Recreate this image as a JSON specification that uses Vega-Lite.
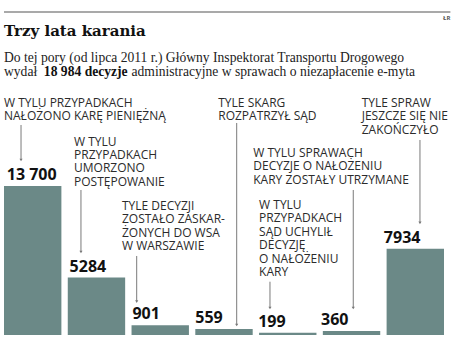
{
  "$schema": "https://vega.github.io/schema/vega-lite/v6.json",
  "width": 440,
  "height": 240,
  "autosize": "none",
  "padding": {"left": 4, "top": 95, "right": 14, "bottom": 7},
  "background": "white",
  "config": {"view": {"stroke": null}},
  "datasets": {
    "bars": [
      {"kat": "Kara pieniężna", "wartosc": 13700, "etykieta": "13 700"},
      {"kat": "Umorzone", "wartosc": 5284, "etykieta": "5284"},
      {"kat": "Zaskarżone do WSA", "wartosc": 901, "etykieta": "901"},
      {"kat": "Skargi rozpatrzone", "wartosc": 559, "etykieta": "559"},
      {"kat": "Sąd uchylił", "wartosc": 199, "etykieta": "199"},
      {"kat": "Utrzymane", "wartosc": 360, "etykieta": "360"},
      {"kat": "Niezakończone", "wartosc": 7934, "etykieta": "7934"}
    ],
    "opisy": [
      {"tekst": "W TYLU PRZYPADKACH\nNAŁOŻONO KARĘ PIENIĘŻNĄ", "ax": 0, "ay": 20970},
      {"tekst": "W TYLU\nPRZYPADKACH\nUMORZONO\nPOSTĘPOWANIE", "ax": 1.098, "ay": 17426},
      {"tekst": "TYLE DECYZJI\nZOSTAŁO ZASKAR-\nŻONYCH DO WSA\nW WARSZAWIE", "ax": 1.85, "ay": 11495},
      {"tekst": "TYLE SKARG\nROZPATRZYŁ SĄD", "ax": 3.36, "ay": 20970},
      {"tekst": "W TYLU SPRAWACH\nDECYZJE O NAŁOŻENIU\nKARY ZOSTAŁY UTRZYMANE", "ax": 3.909, "ay": 16369},
      {"tekst": "W TYLU\nPRZYPADKACH\nSĄD UCHYLIŁ\nDECYZJĘ\nO NAŁOŻENIU\nKARY", "ax": 4.0, "ay": 11587},
      {"tekst": "TYLE SPRAW\nJESZCZE SIĘ NIE\nZAKOŃCZYŁO", "ax": 5.609, "ay": 20970}
    ],
    "linie": [
      {"ax": 0.267, "y1": 19312, "y2": 16093},
      {"ax": 1.207, "y1": 13334, "y2": 7633},
      {"ax": 2.081, "y1": 7265, "y2": 3062},
      {"ax": 3.649, "y1": 19496, "y2": 920},
      {"ax": 5.477, "y1": 13334, "y2": 2483},
      {"ax": 4.171, "y1": 4901, "y2": 2483},
      {"ax": 6.523, "y1": 17932, "y2": 10300}
    ],
    "naglowek": [
      {"t": "Trzy lata karania", "ax": 0, "ay": 27450}
    ],
    "podtytul": [
      {"t": "Do tej pory (od lipca 2011 r.) Główny Inspektorat Transportu Drogowego", "ax": 0, "ay": 25059},
      {"t": "wydał", "ax": 0, "ay": 23818},
      {"t": "administracyjne w sprawach o niezapłacenie e-myta", "ax": 2.0, "ay": 23818}
    ],
    "wyroznienie": [
      {"t": "18 984 decyzje", "ax": 0.625, "ay": 23818}
    ]
  },
  "resolve": {"scale": {"x": "independent"}},
  "layer": [
    {
      "data": {"name": "bars"},
      "mark": {"type": "bar", "color": "#6b8987"},
      "encoding": {
        "x": {"field": "kat", "type": "nominal", "sort": null, "scale": {"paddingInner": 0.1, "paddingOuter": 0}, "axis": null},
        "y": {"field": "wartosc", "type": "quantitative", "scale": {"domain": [0, 22070], "nice": false}, "axis": null}
      }
    },
    {
      "data": {"name": "bars"},
      "mark": {"type": "text", "align": "left", "baseline": "alphabetic", "dx": -28.7, "dy": -6, "font": "Open Sans", "fontSize": 16, "fontWeight": "bold", "color": "#111111"},
      "encoding": {
        "x": {"field": "kat", "type": "nominal", "sort": null, "scale": {"paddingInner": 0.1, "paddingOuter": 0}, "axis": null},
        "y": {"field": "wartosc", "type": "quantitative", "scale": {"domain": [0, 22070], "nice": false}, "axis": null},
        "text": {"field": "etykieta"}
      }
    },
    {
      "data": {"name": "linie"},
      "mark": {"type": "rule", "color": "#7a7a7a", "strokeWidth": 1},
      "encoding": {
        "x": {"field": "ax", "type": "quantitative", "scale": {"domain": [0, 6.9], "nice": false, "zero": false}, "axis": null},
        "y": {"field": "y1", "type": "quantitative", "scale": {"domain": [0, 22070], "nice": false}, "axis": null},
        "y2": {"field": "y2"}
      }
    },
    {
      "data": {"name": "linie"},
      "mark": {"type": "point", "shape": "triangle-down", "filled": true, "size": 10, "color": "#7a7a7a", "opacity": 1},
      "encoding": {
        "x": {"field": "ax", "type": "quantitative", "scale": {"domain": [0, 6.9], "nice": false, "zero": false}, "axis": null},
        "y": {"field": "y2", "type": "quantitative", "scale": {"domain": [0, 22070], "nice": false}, "axis": null}
      }
    },
    {
      "data": {"name": "opisy"},
      "mark": {"type": "text", "align": "left", "baseline": "alphabetic", "lineBreak": "\n", "lineHeight": 13.4, "font": "Open Sans", "fontSize": 12, "color": "#2b2b2b"},
      "encoding": {
        "x": {"field": "ax", "type": "quantitative", "scale": {"domain": [0, 6.9], "nice": false, "zero": false}, "axis": null},
        "y": {"field": "ay", "type": "quantitative", "scale": {"domain": [0, 22070], "nice": false}, "axis": null},
        "text": {"field": "tekst"}
      }
    },
    {
      "data": {"name": "naglowek"},
      "mark": {"type": "text", "align": "left", "baseline": "alphabetic", "font": "DejaVu Serif", "fontSize": 15, "fontWeight": "bold", "color": "#111111"},
      "encoding": {
        "x": {"field": "ax", "type": "quantitative", "scale": {"domain": [0, 6.9], "nice": false, "zero": false}, "axis": null},
        "y": {"field": "ay", "type": "quantitative", "scale": {"domain": [0, 22070], "nice": false}, "axis": null},
        "text": {"field": "t"}
      }
    },
    {
      "data": {"name": "podtytul"},
      "mark": {"type": "text", "align": "left", "baseline": "alphabetic", "font": "Liberation Serif", "fontSize": 13.6, "color": "#222222"},
      "encoding": {
        "x": {"field": "ax", "type": "quantitative", "scale": {"domain": [0, 6.9], "nice": false, "zero": false}, "axis": null},
        "y": {"field": "ay", "type": "quantitative", "scale": {"domain": [0, 22070], "nice": false}, "axis": null},
        "text": {"field": "t"}
      }
    },
    {
      "data": {"name": "wyroznienie"},
      "mark": {"type": "text", "align": "left", "baseline": "alphabetic", "font": "Liberation Serif", "fontSize": 13.6, "fontWeight": "bold", "color": "#111111"},
      "encoding": {
        "x": {"field": "ax", "type": "quantitative", "scale": {"domain": [0, 6.9], "nice": false, "zero": false}, "axis": null},
        "y": {"field": "ay", "type": "quantitative", "scale": {"domain": [0, 22070], "nice": false}, "axis": null},
        "text": {"field": "t"}
      }
    },
    {
      "data": {"values": [{"x1": 0, "x2": 7.0, "y": 29703}]},
      "mark": {"type": "rule", "color": "#8c8c8c", "strokeWidth": 1.5},
      "encoding": {
        "x": {"field": "x1", "type": "quantitative", "scale": {"domain": [0, 6.9], "nice": false, "zero": false}, "axis": null},
        "x2": {"field": "x2"},
        "y": {"field": "y", "type": "quantitative", "scale": {"domain": [0, 22070], "nice": false}, "axis": null}
      }
    },
    {
      "data": {"values": [{"x": 7.0, "y": 28967, "t": "ŁR"}]},
      "mark": {"type": "text", "align": "right", "baseline": "alphabetic", "font": "Open Sans", "fontSize": 6, "fontWeight": "bold", "color": "#555555"},
      "encoding": {
        "x": {"field": "x", "type": "quantitative", "scale": {"domain": [0, 6.9], "nice": false, "zero": false}, "axis": null},
        "y": {"field": "y", "type": "quantitative", "scale": {"domain": [0, 22070], "nice": false}, "axis": null},
        "text": {"field": "t"}
      }
    }
  ]
}
